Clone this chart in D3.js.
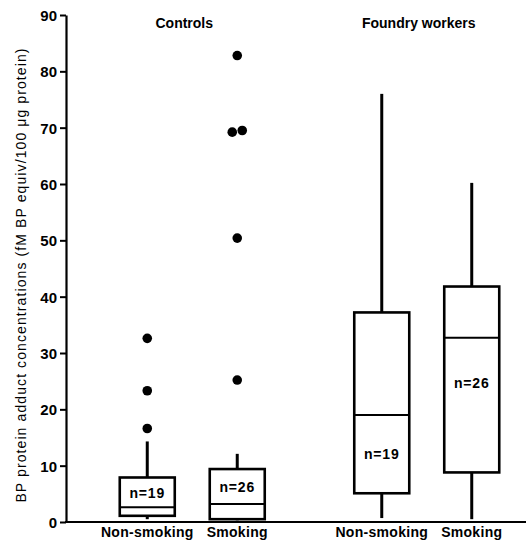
<!DOCTYPE html>
<html>
<head>
<meta charset="utf-8">
<script src="https://cdn.jsdelivr.net/npm/d3@7"></script>
<style>
  html, body { margin: 0; padding: 0; background: #fff; }
  svg { display: block; }
  text { font-family: "Liberation Sans", Arial, Helvetica, sans-serif; fill: #000; }
</style>
</head>
<body>
<svg id="chart" width="526" height="541"></svg>
<script>
// ---- data ----
const groups = ["Controls", "Foundry workers"];
const subgroups = ["Non-smoking", "Smoking"];
const boxGroup = ["Controls", "Controls", "Foundry workers", "Foundry workers"];
const boxSub = ["Non-smoking", "Smoking", "Non-smoking", "Smoking"];
const whiskerLow = [0.5, 0.3, 0.7, 0.5];
const q1 = [1.1, 0.5, 5.1, 8.8];
const median = [2.6, 3.2, 19.0, 32.7];
const q3 = [7.9, 9.4, 37.2, 41.8];
const whiskerHigh = [14.3, 12.1, 76.0, 60.2];
const outliers = [[16.6, 23.3, 32.6], [25.2, 50.4, 69.2, 69.5, 82.8], [], []];
const nCount = [19, 26, 19, 26];
const nLabelValue = [5.2, 6.2, 12.0, 24.6];
const yTicks = [0, 10, 20, 30, 40, 50, 60, 70, 80, 90];
const yLabel = "BP protein adduct concentrations (fM BP equiv/100 \u03bcg protein)";

// ---- drawing ----
const svg = d3.select("#chart");
const axisX = 66, baseY = 522, topY = 15;

const y = d3.scaleLinear().domain([0, 90]).range([baseY, topY]);
const xOuter = d3.scaleBand().domain(groups).range([75, 544]).padding(0);
const xInner = d3.scalePoint().domain(subgroups).range([0, xOuter.bandwidth()]).padding(0.803);
const boxW = 55;

const cx = i => xOuter(boxGroup[i]) + xInner(boxSub[i]);

// y axis
const yAxis = d3.axisLeft(y).tickValues(yTicks).tickSize(6).tickSizeOuter(0).tickPadding(3);
const ga = svg.append("g").attr("transform", `translate(${axisX},0)`).call(yAxis);
ga.select(".domain").attr("stroke", "#000").attr("stroke-width", 2.2);
ga.selectAll(".tick line").attr("stroke", "#000").attr("stroke-width", 2);
ga.selectAll(".tick text")
  .style("font-family", "'Liberation Sans', Arial, sans-serif")
  .style("font-size", "15px").style("font-weight", "bold").attr("fill", "#000").attr("dy", "0.36em");

// x baseline
svg.append("line").attr("x1", axisX - 1).attr("x2", 526).attr("y1", baseY).attr("y2", baseY)
  .attr("stroke", "#000").attr("stroke-width", 2.2);

// y label
svg.append("text")
  .attr("transform", `translate(21,${275}) rotate(-90)`)
  .attr("text-anchor", "middle")
  .attr("dominant-baseline", "central")
  .style("font-size", "14px").style("letter-spacing", "1.1px")
  .text(yLabel);

// group titles
svg.selectAll(".gtitle").data(groups).enter().append("text")
  .attr("class", "gtitle")
  .attr("x", d => xOuter(d) + xOuter.bandwidth() / 2 - 8)
  .attr("y", 28)
  .attr("text-anchor", "middle")
  .style("font-size", "14px").style("font-weight", "bold")
  .text(d => d);

// x labels
const idx = d3.range(boxGroup.length);
svg.selectAll(".xlab").data(idx).enter().append("text")
  .attr("class", "xlab")
  .attr("x", i => cx(i))
  .attr("y", 537)
  .attr("text-anchor", "middle")
  .style("font-size", "14px").style("font-weight", "bold").style("letter-spacing", "0.3px")
  .text(i => boxSub[i]);

const boxes = svg.selectAll(".box").data(idx).enter().append("g").attr("class", "box");

// whiskers
boxes.append("line")
  .attr("x1", i => cx(i)).attr("x2", i => cx(i))
  .attr("y1", i => y(q3[i])).attr("y2", i => y(whiskerHigh[i]))
  .attr("stroke", "#000").attr("stroke-width", 3);
boxes.append("line")
  .attr("x1", i => cx(i)).attr("x2", i => cx(i))
  .attr("y1", i => y(q1[i])).attr("y2", i => y(whiskerLow[i]))
  .attr("stroke", "#000").attr("stroke-width", 3);

// box
boxes.append("rect")
  .attr("x", i => cx(i) - boxW / 2)
  .attr("y", i => y(q3[i]))
  .attr("width", boxW)
  .attr("height", i => y(q1[i]) - y(q3[i]))
  .attr("fill", "#fff").attr("stroke", "#000").attr("stroke-width", 2.6);

// median
boxes.append("line")
  .attr("x1", i => cx(i) - boxW / 2).attr("x2", i => cx(i) + boxW / 2)
  .attr("y1", i => y(median[i])).attr("y2", i => y(median[i]))
  .attr("stroke", "#000").attr("stroke-width", 2);

// n labels
boxes.append("text")
  .attr("x", i => cx(i))
  .attr("y", i => y(nLabelValue[i]))
  .attr("text-anchor", "middle")
  .attr("dominant-baseline", "central")
  .style("font-size", "14px").style("font-weight", "bold").style("letter-spacing", "0.8px")
  .text(i => "n=" + nCount[i]);

// outliers (spread dots that would overlap)
const pts = [];
idx.forEach(i => {
  const vals = outliers[i].slice().sort((a, b) => a - b);
  vals.forEach((v, k) => {
    let dx = 0;
    const prev = vals[k - 1], next = vals[k + 1];
    if (next !== undefined && Math.abs(y(next) - y(v)) < 9) dx = -5;
    if (prev !== undefined && Math.abs(y(prev) - y(v)) < 9) dx = 5;
    pts.push({ x: cx(i) + dx, v });
  });
});
svg.selectAll(".out").data(pts).enter().append("circle")
  .attr("class", "out")
  .attr("cx", d => d.x).attr("cy", d => y(d.v))
  .attr("r", 4.8).attr("fill", "#000");
</script>
</body>
</html>
